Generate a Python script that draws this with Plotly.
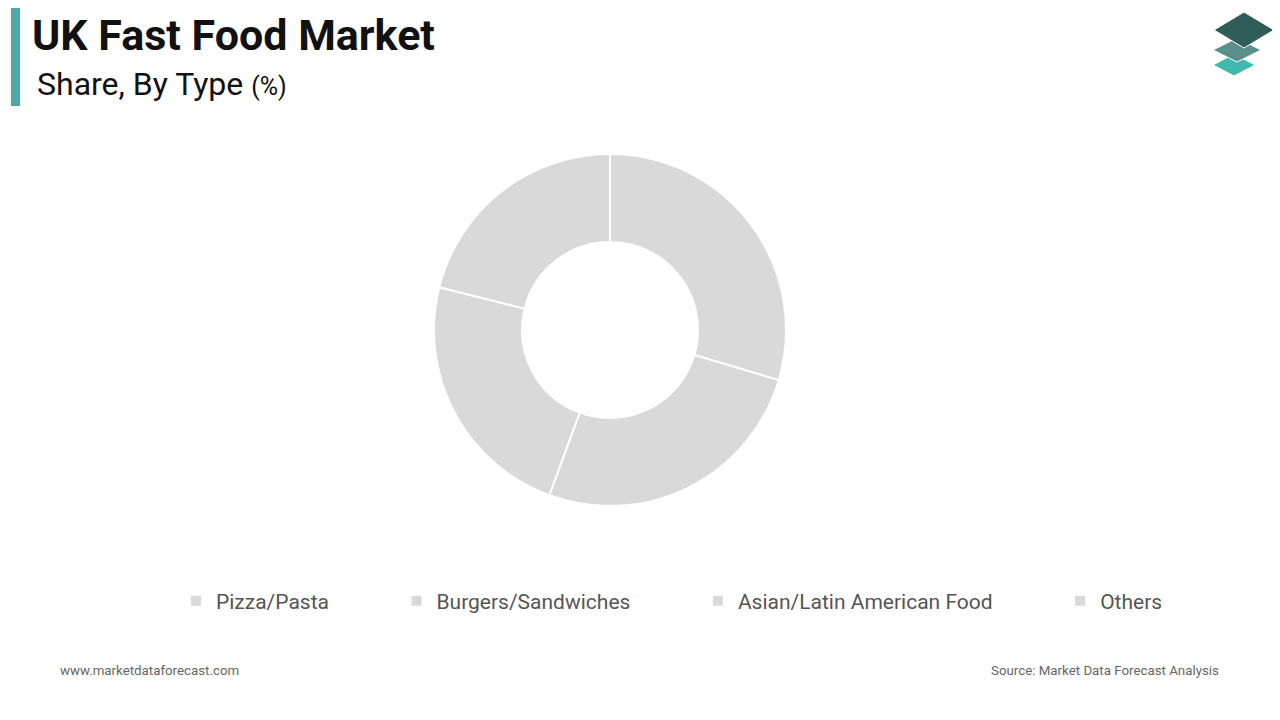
import plotly.graph_objects as go

types = ["Pizza/Pasta", "Burgers/Sandwiches", "Asian/Latin American Food", "Others"]
shares = [29.6, 26.0, 23.3, 21.1]

# page body has an 8px margin, so shift everything back by 8px
def X(px):
    return (px - 8) / 1280

def Y(py):
    return 1 - (py - 8) / 720

pad = "\u00a0" * 12
fig = go.Figure()
fig.add_trace(go.Pie(
    labels=[t + pad for t in types], values=shares, hole=0.5, sort=False, direction="clockwise",
    rotation=0, textinfo="none", hoverinfo="label+percent",
    marker=dict(colors=["#d9d9d9"] * 4, line=dict(color="white", width=2)),
    domain=dict(x=[X(434), X(786)], y=[Y(506), Y(154)]),
))

fig.update_layout(
    width=1280, height=720, paper_bgcolor="white", plot_bgcolor="white",
    margin=dict(l=0, r=0, t=0, b=0),
    font=dict(family="Roboto", color="#555555"),
    legend=dict(orientation="h", x=X(176), xanchor="left", y=Y(601), yanchor="middle",
                font=dict(size=21, color="#555555"), itemwidth=30, traceorder="normal"),
)

fig.add_shape(type="rect", xref="paper", yref="paper", x0=X(11), x1=X(20), y0=Y(106), y1=Y(8),
              fillcolor="#4aa9a6", line_width=0)
fig.add_annotation(text="<b>UK Fast Food Market</b>", xref="paper", yref="paper", x=X(30), y=Y(35),
                   xanchor="left", yanchor="middle", showarrow=False,
                   font=dict(size=43, color="#111111", family="Roboto"))
fig.add_annotation(text="Share, By Type <span style='font-size:25px'>(%)</span>", xref="paper", yref="paper",
                   x=X(35), y=Y(84), xanchor="left", yanchor="middle", showarrow=False,
                   font=dict(size=32, color="#111111", family="Roboto"))
fig.add_annotation(text="www.marketdataforecast.com", xref="paper", yref="paper", x=X(58), y=Y(670),
                   xanchor="left", yanchor="middle", showarrow=False, font=dict(size=13.3, color="#666666"))
fig.add_annotation(text="Source: Market Data Forecast Analysis", xref="paper", yref="paper", x=X(1221), y=Y(670),
                   xanchor="right", yanchor="middle", showarrow=False, font=dict(size=13.3, color="#666666"))

# logo: stacked diamonds (bottom first)
for cx, cy, w, h, col in [(1234, 65, 21, 11, "#3fb8b0"), (1237, 50, 24, 12, "#5a8f8b"),
                          (1244, 30, 30, 18, "#2f5e5a")]:
    fig.add_shape(type="path", xref="paper", yref="paper",
                  path=f"M {X(cx-w)} {Y(cy)} L {X(cx)} {Y(cy+h)} L {X(cx+w)} {Y(cy)} L {X(cx)} {Y(cy-h)} Z",
                  fillcolor=col, line=dict(color="white", width=1))

fig.write_html("out.html")
